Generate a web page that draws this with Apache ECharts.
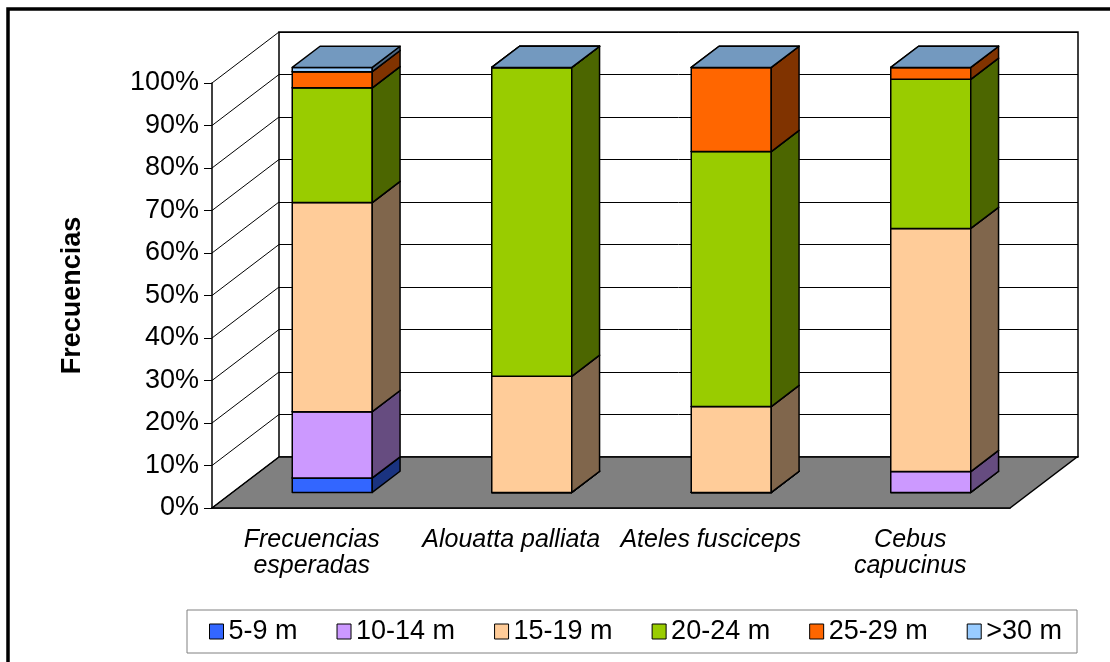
<!DOCTYPE html>
<html>
<head>
<meta charset="utf-8">
<script src="https://cdn.jsdelivr.net/npm/echarts@6/dist/echarts.min.js"></script>
<style>
  html, body { margin: 0; padding: 0; background: #fff; }
  #chart { width: 1110px; height: 662px; }
</style>
</head>
<body>
<div id="chart"></div>
<script>
const categories = ['Frecuencias\nesperadas', 'Alouatta palliata', 'Ateles fusciceps', 'Cebus\ncapucinus'];
const seriesNames = ['5-9 m', '10-14 m', '15-19 m', '20-24 m', '25-29 m', '>30 m'];
const h5to9 = [3.4, 0, 0, 0];
const h10to14 = [15.6, 0, 0, 4.9];
const h15to19 = [49.2, 27.3, 20.2, 57.2];
const h20to24 = [27.0, 72.7, 60.0, 35.1];
const h25to29 = [3.8, 0, 19.8, 2.8];
const h30plus = [1.0, 0, 0, 0];
const yTicks = [0, 10, 20, 30, 40, 50, 60, 70, 80, 90, 100];

const allValues = [h5to9, h10to14, h15to19, h20to24, h25to29, h30plus];

// excel-like 3d look
const frontColors = ['#3366FF', '#CC99FF', '#FFCC99', '#99CC00', '#FF6600', '#99CCFF'];
const sideColors = ['#1A3380', '#664C80', '#80664C', '#4C6600', '#803300', '#4C6680'];
const topColors = ['#264CBF', '#9973BF', '#BF9973', '#739900', '#BF4C00', '#7399BF'];
const DEPTH_X = 67;     // full depth of the floor, px
const DEPTH_Y = -51;
const F_FRONT = 0.306;  // where the bar front sits inside the depth
const BAR_D = 0.415;    // bar depth as share of the floor depth
const BAR_W = 0.401;    // bar width as share of the band
const FONT = '"Liberation Sans", Arial, sans-serif';

const chart = echarts.init(document.getElementById('chart'));

function barRender(k) {
    return function (params, api) {
        const cat = api.value(0);
        const p0 = api.coord([cat, api.value(1)]);
        const p1 = api.coord([cat, api.value(2)]);
        const w = api.size([1, 0])[0] * BAR_W;
        const dx = BAR_D * DEPTH_X;
        const dy = BAR_D * DEPTH_Y;
        const x = p0[0] - w / 2 + F_FRONT * DEPTH_X;
        const yb = p0[1] + F_FRONT * DEPTH_Y;
        const yt = p1[1] + F_FRONT * DEPTH_Y;
        const edge = { stroke: '#000', lineWidth: 1.5, lineJoin: 'round' };
        return {
            type: 'group',
            children: [
                { type: 'polygon', shape: { points: [[x, yt], [x + w, yt], [x + w, yb], [x, yb]] },
                  style: Object.assign({ fill: frontColors[k] }, edge) },
                { type: 'polygon', shape: { points: [[x + w, yt], [x + w + dx, yt + dy], [x + w + dx, yb + dy], [x + w, yb]] },
                  style: Object.assign({ fill: sideColors[k] }, edge) },
                { type: 'polygon', shape: { points: [[x, yt], [x + w, yt], [x + w + dx, yt + dy], [x + dx, yt + dy]] },
                  style: Object.assign({ fill: topColors[k] }, edge) }
            ]
        };
    };
}

// stack the classes by hand so each box knows its base and top
const base = categories.map(() => 0);
const barSeries = allValues.map((vals, k) => {
    const data = vals.map((v, i) => {
        const item = [i, base[i], base[i] + v];
        base[i] += v;
        return item;
    });
    return {
        type: 'custom',
        name: seriesNames[k],
        xAxisIndex: 0,
        yAxisIndex: 0,
        z: 3,
        clip: false,
        silent: true,
        itemStyle: { color: frontColors[k] },
        encode: { x: 0, y: [1, 2] },
        renderItem: barRender(k),
        data: data
    };
});

// floor and the lines on the left wall
const wallSeries = {
    type: 'custom',
    name: 'walls',
    xAxisIndex: 0,
    yAxisIndex: 0,
    z: 1,
    clip: false,
    silent: true,
    encode: { x: 0, y: 1 },
    data: yTicks.map(v => [0, v]),
    renderItem(params, api) {
        const cs = params.coordSys;
        const y = api.coord([0, api.value(1)])[1];
        const x0 = cs.x;
        const x1 = cs.x + cs.width;
        const children = [];
        if (api.value(1) === 0) {
            children.push({
                type: 'polygon',
                shape: { points: [[x0, y], [x1, y], [x1 + DEPTH_X, y + DEPTH_Y], [x0 + DEPTH_X, y + DEPTH_Y]] },
                style: { fill: '#808080', stroke: '#000', lineWidth: 1.5 }
            });
        }
        children.push({
            type: 'line',
            shape: { x1: x0, y1: y, x2: x0 + DEPTH_X, y2: y + DEPTH_Y },
            style: { stroke: '#000', lineWidth: 1 }
        });
        return { type: 'group', children };
    }
};

chart.setOption({
    animation: false,
    backgroundColor: '#fff',
    graphic: [{
        type: 'rect',
        shape: { x: 8, y: 9, width: 1300, height: 900 },
        style: { fill: 'none', stroke: '#000', lineWidth: 3.5 },
        silent: true
    }],
    grid: [
        { left: 212, right: 100, top: 83, bottom: 154 },
        { left: 279, right: 32, top: 32, bottom: 205, show: true, borderColor: '#000', borderWidth: 1.5, backgroundColor: '#fff' }
    ],
    legend: {
        data: seriesNames,
        left: 187,
        top: 610,
        icon: 'rect',
        itemWidth: 14,
        itemHeight: 15,
        itemGap: 39,
        padding: [8, 15, 8, 22],
        borderColor: '#808080',
        borderWidth: 1,
        itemStyle: { borderColor: '#000', borderWidth: 1 },
        textStyle: { fontSize: 27, color: '#000', fontFamily: FONT }
    },
    xAxis: [
        {
            gridIndex: 0,
            type: 'category',
            data: categories,
            axisLine: { lineStyle: { color: '#000', width: 1.5 } },
            axisTick: { length: 8, lineStyle: { color: '#000', width: 1 } },
            axisLabel: {
                interval: 0,
                margin: 19,
                fontSize: 25,
                lineHeight: 26,
                fontStyle: 'italic',
                color: '#000',
                fontFamily: FONT
            }
        },
        { gridIndex: 1, type: 'category', data: categories, show: false }
    ],
    yAxis: [
        {
            gridIndex: 0,
            type: 'value',
            min: 0,
            max: 100,
            interval: 10,
            name: 'Frecuencias',
            nameLocation: 'middle',
            nameRotate: 90,
            nameGap: 126,
            nameTextStyle: { fontSize: 27, fontWeight: 'bold', color: '#000', fontFamily: FONT },
            axisLine: { show: true, lineStyle: { color: '#000', width: 1.5 } },
            axisTick: { show: true, length: 8, lineStyle: { color: '#000', width: 1 } },
            splitLine: { show: false },
            axisLabel: { formatter: '{value}%', margin: 13, fontSize: 27, color: '#000', fontFamily: FONT }
        },
        {
            gridIndex: 1,
            type: 'value',
            min: 0,
            max: 100,
            interval: 10,
            axisLine: { show: false },
            axisTick: { show: false },
            axisLabel: { show: false },
            splitLine: { lineStyle: { color: '#000', width: 1 } }
        }
    ],
    series: [wallSeries].concat(barSeries)
});
</script>
</body>
</html>
